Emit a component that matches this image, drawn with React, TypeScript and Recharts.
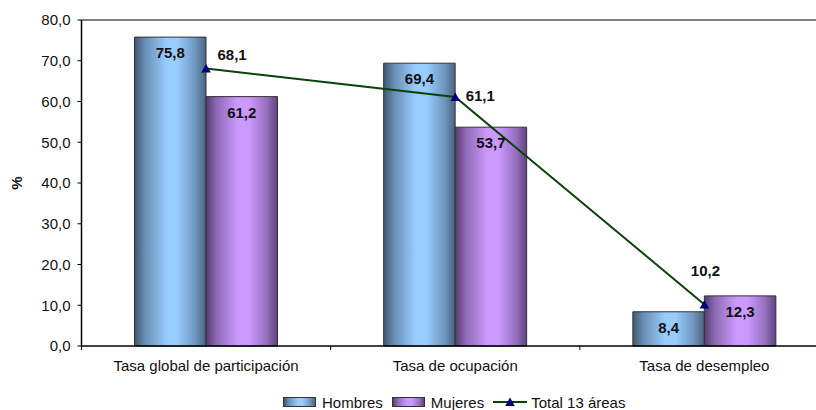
import {
  ComposedChart,
  Bar,
  Line,
  XAxis,
  YAxis,
  LabelList,
  ReferenceLine,
} from 'recharts';

const categories = ['Tasa global de participación', 'Tasa de ocupación', 'Tasa de desempleo'];
const hombres = [75.8, 69.4, 8.4];
const mujeres = [61.2, 53.7, 12.3];
const total13 = [68.1, 61.1, 10.2];
const yTicks = [0, 10, 20, 30, 40, 50, 60, 70, 80];

const data = categories.map((name, i) => ({
  name,
  hombres: hombres[i],
  mujeres: mujeres[i],
  total: total13[i],
}));

const W = 830;
const H = 410;
const M = { top: 20, right: 1, bottom: 0, left: 0 };
const Y_AXIS_W = 81.5;
const HALF_BAND = (W - M.left - M.right - Y_AXIS_W) / categories.length / 2;

const FONT = '"Liberation Sans", Arial, sans-serif';
const fmt = (v: number) => v.toFixed(1).replace('.', ',');

const XTick = ({ x, y, payload, index }: any) => (
  <g>
    {index === 0 && <line x1={x - HALF_BAND} y1={y} x2={x - HALF_BAND} y2={y + 4} stroke="#000" />}
    <line x1={x + HALF_BAND} y1={y} x2={x + HALF_BAND} y2={y + 4} stroke="#000" />
    <text x={x} y={y + 21} textAnchor="middle" dominantBaseline="middle" fontSize={15} fontFamily={FONT} fill="#111">
      {payload.value}
    </text>
  </g>
);

const BarValue = ({ x, y, width, value }: any) => (
  <text
    x={x + width / 2}
    y={y + 17}
    textAnchor="middle"
    dominantBaseline="middle"
    fontSize={15}
    fontWeight="bold"
    fontFamily={FONT}
    fill="#111"
  >
    {fmt(value)}
  </text>
);

// label placement as set by hand in the original
const lineOffsets = [
  [26, -12],
  [25, 0],
  [1, -32],
];

const LineValue = ({ x, y, value, index }: any) => {
  const [dx, dy] = lineOffsets[index] || [0, -14];
  return (
    <text
      x={x + dx}
      y={y + dy}
      textAnchor="middle"
      dominantBaseline="middle"
      fontSize={15}
      fontWeight="bold"
      fontFamily={FONT}
      fill="#111"
    >
      {fmt(value)}
    </text>
  );
};

const Triangle = ({ cx, cy }: any) => (
  <path d={`M${cx},${cy - 4.5} L${cx + 4.8},${cy + 4} L${cx - 4.8},${cy + 4} Z`} fill="#000080" />
);

const blueCss =
  'linear-gradient(to right, #3f5770, #6a8fb5 15%, #99ccff 45%, #99ccff 60%, #6f96bd 85%, #4a6480)';
const purpleCss =
  'linear-gradient(to right, #553a72, #8e6bb5 15%, #cc99ff 45%, #cc99ff 60%, #9670bd 85%, #5e4380)';

const Swatch = ({ bg }: { bg: string }) => (
  <span
    style={{
      display: 'inline-block',
      width: 31,
      height: 8,
      border: '1px solid #333',
      background: bg,
      marginRight: 6,
    }}
  />
);

export default function App() {
  return (
    <div style={{ position: 'fixed', left: 0, top: 0, width: 816, height: 410, overflow: 'hidden', background: '#fff' }}>
      <ComposedChart width={W} height={H} data={data} margin={M} barGap={0}>
        <defs>
          <linearGradient id="gradH" x1="0" y1="0" x2="1" y2="0">
            <stop offset="0%" stopColor="#3f5770" />
            <stop offset="15%" stopColor="#6a8fb5" />
            <stop offset="45%" stopColor="#99ccff" />
            <stop offset="60%" stopColor="#99ccff" />
            <stop offset="85%" stopColor="#6f96bd" />
            <stop offset="100%" stopColor="#4a6480" />
          </linearGradient>
          <linearGradient id="gradM" x1="0" y1="0" x2="1" y2="0">
            <stop offset="0%" stopColor="#553a72" />
            <stop offset="15%" stopColor="#8e6bb5" />
            <stop offset="45%" stopColor="#cc99ff" />
            <stop offset="60%" stopColor="#cc99ff" />
            <stop offset="85%" stopColor="#9670bd" />
            <stop offset="100%" stopColor="#5e4380" />
          </linearGradient>
        </defs>
        <XAxis
          dataKey="name"
          height={64}
          tickLine={false}
          tickSize={0}
          tickMargin={0}
          axisLine={{ stroke: '#000', strokeWidth: 1.5 }}
          tick={<XTick />}
          interval={0}
        />
        <YAxis
          width={Y_AXIS_W}
          domain={[0, 80]}
          ticks={yTicks}
          tickFormatter={fmt}
          tickSize={4}
          tickMargin={7}
          axisLine={{ stroke: '#000', strokeWidth: 1.5 }}
          tickLine={{ stroke: '#000' }}
          tick={{ fontSize: 15, fontFamily: FONT, fill: '#111' }}
          label={{
            value: '%',
            angle: -90,
            position: 'insideLeft',
            offset: 17,
            style: { fontSize: 15, fontWeight: 'bold', fontFamily: FONT, fill: '#111', textAnchor: 'middle' },
          }}
        />
        <ReferenceLine y={80} stroke="#808080" strokeWidth={2} />
        <Bar dataKey="hombres" name="Hombres" barSize={71.5} fill="url(#gradH)" stroke="#333" strokeWidth={1} isAnimationActive={false}>
          <LabelList dataKey="hombres" content={<BarValue />} />
        </Bar>
        <Bar dataKey="mujeres" name="Mujeres" barSize={71.5} fill="url(#gradM)" stroke="#333" strokeWidth={1} isAnimationActive={false}>
          <LabelList dataKey="mujeres" content={<BarValue />} />
        </Bar>
        <Line
          dataKey="total"
          name="Total 13 áreas"
          stroke="#0a420a"
          strokeWidth={2}
          dot={<Triangle />}
          activeDot={false}
          isAnimationActive={false}
        >
          <LabelList dataKey="total" content={<LineValue />} />
        </Line>
      </ComposedChart>
      <div
        style={{
          position: 'absolute',
          left: 283,
          top: 393,
          height: 18,
          display: 'flex',
          alignItems: 'center',
          fontFamily: FONT,
          fontSize: 15,
          color: '#111',
          whiteSpace: 'nowrap',
        }}
      >
        <Swatch bg={blueCss} />
        <span style={{ marginRight: 9 }}>Hombres</span>
        <Swatch bg={purpleCss} />
        <span style={{ marginRight: 9 }}>Mujeres</span>
        <svg width={34} height={10} style={{ marginRight: 4 }}>
          <line x1={0} y1={5} x2={34} y2={5} stroke="#0a420a" strokeWidth={2} />
          <path d="M17,0.5 L21.8,9 L12.2,9 Z" fill="#000080" />
        </svg>
        <span>Total 13 áreas</span>
      </div>
    </div>
  );
}
